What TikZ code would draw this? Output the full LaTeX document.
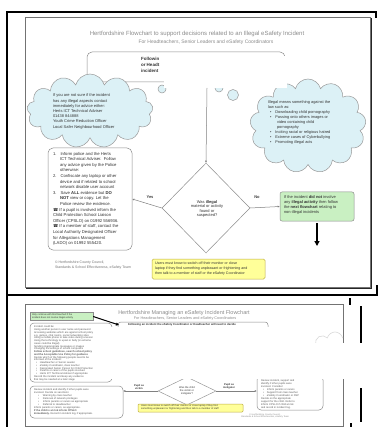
\documentclass[tikz,border=0pt]{standalone}
\usepackage{fontspec}
\setmainfont{Liberation Sans}
\newfontfamily\dejavu{DejaVu Sans}
\usetikzlibrary{shapes.symbols,shapes.geometric,arrows.meta}
\definecolor{cloudc}{HTML}{DCF1F6}
\definecolor{greenc}{HTML}{C9F0C2}
\definecolor{yellowc}{HTML}{FFFF99}
\definecolor{yborder}{HTML}{BFAF46}
\definecolor{titlec}{HTML}{8C8C8C}
\newcommand{\phn}{{\dejavu\char"260E}}
\newcommand{\ind}{\hspace*{7pt}}
\newcommand{\bind}{\hspace*{9pt}}
\begin{document}
\begin{tikzpicture}[x=1pt,y=-1pt,
 frame/.style={line width=2pt,black},
 img/.style={draw=black!55,line width=0.8pt},
 shadow/.style={draw=black!85,line width=1pt},
 rbox/.style={draw=black!45,line width=0.5pt,rounded corners=5pt,fill=white,inner sep=0pt},
 tx/.style={inner sep=0pt,outer sep=0pt,align=left,anchor=north west,text=black!80},
 ctx/.style={inner sep=0pt,align=center,text=black!80},
 conn/.style={draw=black!50,line width=0.5pt,-{Latex[length=2pt,width=2pt]}},
 cloudn/.style={cloud,cloud puffs=13,cloud ignores aspect,draw=black!40,fill=cloudc,line width=0.5pt,inner sep=0pt},
 bub/.style={circle,draw=black!40,fill=cloudc,line width=0.5pt,inner sep=0pt},
 ttl/.style={text=titlec,inner sep=0pt},
]
\useasboundingbox (0,0) rectangle (378,427);
\fill[white] (0,0) rectangle (378,427);

% ---------------- panel 1 ----------------
\draw[img] (25,17) rectangle (370,287);
\draw[shadow] (371.5,18) -- (371.5,288.5) -- (26,288.5);

\node[ttl,font=\fontsize{6}{7}\selectfont] (t1) at (197,34) {Hertfordshire Flowchart to support decisions related to an Illegal eSafety Incident};
\node[ttl,font=\fontsize{5}{6}\selectfont] (t2) at (206,42) {For Headteachers, Senior Leaders and eSafety Coordinators};

\node[rbox,minimum width=198pt,minimum height=30pt] (topbox) at (186,67) {};
\node[tx,font=\fontsize{4.5}{6}\selectfont\bfseries] (toptx) at (141,57) {Followin\\or Headt\\incident};

\node[cloudn,minimum width=126pt,minimum height=74pt] (lcloud) at (90,111) {};
\node[bub,minimum size=8pt] (lb1) at (162,89) {};
\node[tx,font=\fontsize{4}{5.2}\selectfont] (lctx) at (53,94) {If you are not sure if the incident\\has any illegal aspects contact\\immediately for advice either:\\Herts ICT Technical Adviser\\01438 844888\\Youth Crime Reduction Officer\\Local Safer Neighbourhood Officer};

\node[cloudn,minimum width=116pt,minimum height=94pt] (rcloud) at (308,126) {};
\node[bub,minimum size=8pt] (rb1) at (219,88) {};
\node[bub,minimum size=11pt] (rb2) at (233,95) {};
\node[tx,font=\fontsize{3.9}{5}\selectfont] (rctx) at (268,101) {Illegal means something against the\\law such as:\\
\hspace*{2pt}\textbullet\hspace{4pt}Downloading child pornography\\
\hspace*{2pt}\textbullet\hspace{4pt}Passing onto others images or\\
\bind video containing child\\
\bind pornography\\
\hspace*{2pt}\textbullet\hspace{4pt}Inciting racial or religious hatred\\
\hspace*{2pt}\textbullet\hspace{4pt}Extreme cases of Cyberbullying\\
\hspace*{2pt}\textbullet\hspace{4pt}Promoting illegal acts};

\fill[white] (164,56) rectangle (287,88);
\coordinate (vtop) at (207,88);

\node[diamond,draw=black!45,line width=0.5pt,minimum width=88pt,minimum height=90pt,inner sep=0pt] (dia) at (206,208) {};
\node[ctx,font=\fontsize{4}{4.3}\selectfont] (diatx) at (207,209) {Was \textbf{illegal}\\material or activity\\found or\\suspected?};
\draw[conn] (vtop) -- (dia.north);

\node[rbox,minimum width=84pt,minimum height=102pt] (lbox) at (90,199) {};
\node[tx,font=\fontsize{4.2}{5.6}\selectfont] (lboxtx) at (53,152) {
1.\hspace{4pt}Inform police and the Herts\\
\ind ICT Technical Adviser.\ \ Follow\\
\ind any advice given by the Police\\
\ind otherwise:\\
2.\hspace{4pt}Confiscate any laptop or other\\
\ind device and if related to school\\
\ind network disable user account\\
3.\hspace{4pt}Save \textbf{ALL} evidence but \textbf{DO}\\
\ind\textbf{NOT} view or copy. Let the\\
\ind Police review the evidence.\\
\phn\ If a pupil is involved inform the\\
Child Protection School Liaison\\
Officer (CPSLO) on 01992 556936.\\
\phn\ If a member of staff, contact the\\
Local Authority Designated Officer\\
for Allegations Management\\
(LADO) on 01992 555420.};
\draw[conn] (dia.west) -- (lbox.east);
\node[inner sep=0pt,font=\fontsize{4}{5}\selectfont\bfseries,text=black!75] (yes) at (150,197) {Yes};
\node[inner sep=0pt,font=\fontsize{4}{5}\selectfont\bfseries,text=black!75] (no) at (257,197) {No};

\node[draw=black!45,fill=greenc,rounded corners=2pt,line width=0.5pt,minimum width=74pt,minimum height=29pt,inner sep=0pt] (gbox) at (317,206.5) {};
\node[tx,font=\fontsize{4}{4.8}\selectfont] (gtx) at (284,196) {If the incident \textbf{did not} involve\\any \textbf{illegal activity} then follow\\the \textbf{next flowchart} relating to\\non-illegal incidents};
\draw[conn] (dia.east) -- (gbox.west);
\coordinate (gend) at (317,246);
\draw[line width=1.5pt,-{Triangle[length=5pt,width=5pt]}] ([yshift=-2pt]gbox.south) -- (gend);

\node[draw=yborder,fill=yellowc,rounded corners=1.5pt,line width=0.5pt,minimum width=113pt,minimum height=20pt,inner sep=0pt] (ybox) at (208.5,269) {};
\node[tx,font=\fontsize{3.6}{5}\selectfont] (ytx) at (155,262) {Users must know to switch off their monitor or close\\laptop if they find something unpleasant or frightening and\\then talk to a member of staff or the eSafety Coordinator};

\node[tx,font=\fontsize{3.5}{4.5}\selectfont,text=black!55] (copy) at (55,261) {\textcopyright\ Hertfordshire County Council,\\Standards \& School Effectiveness, eSafety Team};

% ---------------- frame ----------------
\draw[frame] (7,427) -- (7,12) -- (376,12) -- (376,18);
\draw[frame] (7,295) -- (377,295) -- (377,285);

% ---------------- panel 2 ----------------
\draw[img] (25,304) rectangle (343,426);
\draw[frame] (350,298) -- (350,305);
\draw[frame] (361,306) -- (361,343);
\draw[frame] (361,388) -- (361,422);
\draw[frame] (351,423) -- (351,427);

\begin{scope}
\clip (25,304) rectangle (343,426);
\node[cloud,cloud puffs=9,cloud ignores aspect,draw=black!15,line width=0.6pt,minimum width=50pt,minimum height=40pt] (fcloud) at (335,352) {};
\end{scope}

\node[draw=black!45,fill=greenc,minimum width=63pt,minimum height=8pt,inner sep=0pt,line width=0.4pt] (g2) at (61.5,316.5) {};
\node[tx,font=\fontsize{2.4}{2.8}\selectfont] (g2tx) at (32,313.6) {Only continue with this flowchart if the\\incident does not involve illegal activity};

\node[ttl,font=\fontsize{5.5}{6}\selectfont] (t3) at (184,313) {Hertfordshire Managing an eSafety Incident Flowchart};
\node[ttl,font=\fontsize{3.8}{4}\selectfont] (t4) at (185,318.5) {For Headteachers, Senior Leaders and eSafety Coordinators};

\node[rbox,rounded corners=3pt,minimum width=150pt,minimum height=20pt] (top2) at (193,332) {};
\node[tx,font=\fontsize{2.8}{3.4}\selectfont\bfseries] (top2tx) at (128,323.6) {Following an incident the eSafety Coordinator or Headteacher will need to decide};
\coordinate (a2end) at (119,325);
\draw[line width=1pt,-{Triangle[length=3pt,width=3pt]}] (g2.east) -- (a2end);

\node[rbox,rounded corners=4pt,minimum width=82pt,minimum height=59pt] (lb2) at (71,352.5) {};
\node[tx,font=\fontsize{2.6}{2.75}\selectfont,text=black!65] (lb2tx) at (34,326) {Incident could be:\\
Using another person's user name and password\\
Accessing websites which are against school policy\\
e.g. games, chat rooms, social networking sites\\
Using a mobile phone to take video during a lesson\\
Using the technology to upset or bully (in extreme\\
cases could be illegal)\\
Sending inappropriate messages or images\\
Changing the settings of school computers\\
\textbf{Follow school guidelines, search school policy}\\
\textbf{and the Acceptable Use Policy for guidance}\\
Decide which of the following people need to be\\
informed of the incident:\\
\hspace*{2pt}\textbullet\hspace{3pt}Headteacher or Senior Leader\\
\hspace*{2pt}\textbullet\hspace{3pt}eSafety Coordinator, class teacher\\
\hspace*{2pt}\textbullet\hspace{3pt}Designated Senior Person for Child Protection\\
\hspace*{2pt}\textbullet\hspace{3pt}Parents or carers of the pupils involved\\
\hspace*{2pt}\textbullet\hspace{3pt}Herts ICT Technical Adviser if appropriate\\
Record the incident and keep any evidence\\
that may be needed at a later stage};

\node[rbox,rounded corners=4pt,minimum width=93pt,minimum height=32pt] (llb2) at (76.5,402) {};
\node[tx,font=\fontsize{2.6}{3}\selectfont,text=black!65] (llb2tx) at (34,388.5) {Review incident and identify if other pupils were\\
involved. Decide on sanctions:\\
\hspace*{4pt}\textbullet\hspace{4pt}Warning by class teacher\\
\hspace*{4pt}\textbullet\hspace{4pt}Removal of network privileges\\
\hspace*{4pt}\textbullet\hspace{4pt}Inform parents or carers as appropriate\\
\hspace*{4pt}\textbullet\hspace{4pt}Referral to Headteacher\\
Inform parents or carers, as appropriate.\\
\textbf{If the child is at risk inform CPSLO}\\
\textbf{immediately.} Record in incident log, if appropriate.};

\node[diamond,draw=black!40,line width=0.5pt,minimum width=58pt,minimum height=28pt,inner sep=0pt] (dia2) at (187,391) {};
\node[ctx,font=\fontsize{2.6}{3}\selectfont] (dia2tx) at (187,391) {Was the child\\the victim or\\instigator?};
\draw[conn] (dia2.west) -- (dia2.west -| llb2.east);

\node[rbox,rounded corners=4pt,minimum width=66pt,minimum height=34pt] (rb2) at (290,393) {};
\node[tx,font=\fontsize{2.6}{3}\selectfont,text=black!65] (rb2tx) at (261,379.5) {Review incident, support and\\
identify if other pupils were\\
involved. Consider:\\
\hspace*{2pt}\textbullet\hspace{3pt}Inform parents or carers\\
\hspace*{2pt}\textbullet\hspace{3pt}Support from class teacher\\
\hspace*{2pt}\textbullet\hspace{3pt}eSafety Coordinator or DSP\\
Decide on the appropriate\\
support for the child. Refer to\\
Inform CPSLO if child at risk\\
and record in incident log.};
\draw[conn] (dia2.east) -- (dia2.east -| rb2.west);

\node[ctx,font=\fontsize{2.6}{3}\selectfont\bfseries] (vic) at (139,387) {Pupil as\\victim};
\node[ctx,font=\fontsize{2.6}{3}\selectfont\bfseries] (ins) at (229,386) {Pupil as\\instigator};

\node[draw=yborder,fill=yellowc,rounded corners=1pt,line width=0.5pt,minimum width=105pt,minimum height=8pt,inner sep=0pt] (y2) at (190.5,408) {};
\node[tx,font=\fontsize{2.5}{3}\selectfont] (y2tx) at (141,405) {Users must know to switch off their monitor or close laptop if they find\\something unpleasant or frightening and then talk to a member of staff};

\node[ctx,font=\fontsize{2.2}{2.6}\selectfont,text=black!45] (foot2) at (265,416) {\textcopyright\ Hertfordshire County Council,\\Standards \& School Effectiveness, eSafety Team};

\fill[white] (108,327) rectangle (308,343);
\fill[white] (108,343) rectangle (378,378.5);
\end{tikzpicture}
\end{document}
